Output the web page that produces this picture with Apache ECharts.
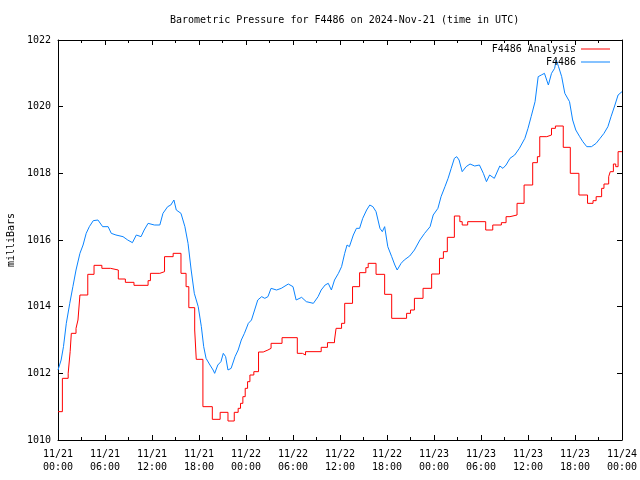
<!DOCTYPE html>
<html><head><meta charset="utf-8">
<script src="https://cdn.jsdelivr.net/npm/echarts@6/dist/echarts.min.js"></script>
<style>html,body{margin:0;padding:0;background:#fff}#c{width:640px;height:480px}</style>
</head><body><div id="c"></div>
<script>
const titleText = 'Barometric Pressure for F4486 on 2024-Nov-21 (time in UTC)';
const yAxisName = 'milliBars';
const seriesNames = ['F4486 Analysis', 'F4486'];
const xTickLabels = ['11/21\n00:00','11/21\n06:00','11/21\n12:00','11/21\n18:00','11/22\n00:00','11/22\n06:00','11/22\n12:00','11/22\n18:00','11/23\n00:00','11/23\n06:00','11/23\n12:00','11/23\n18:00','11/24\n00:00'];

// hours since 2024-11-21 00:00 UTC
const blueHours = [0,0.2,0.4,0.7,1.06,1.5,1.9,2.3,2.8,3.2,3.6,4.0,4.5,5.1,5.7,6.4,6.8,7.4,8.3,8.9,9.5,10.0,10.6,11.0,11.5,12.3,13.0,13.4,14.0,14.4,14.8,15.1,15.7,16.2,16.6,17.0,17.4,17.9,18.3,18.6,18.9,19.4,19.8,20.0,20.4,20.8,21.1,21.4,21.7,22.1,22.6,23.0,23.4,23.8,24.3,24.7,25.1,25.5,26.0,26.4,26.8,27.2,27.9,28.5,29.4,30.0,30.4,31.1,31.7,32.6,33.2,33.6,34.1,34.5,34.9,35.3,35.8,36.2,36.6,36.9,37.2,37.7,38.1,38.5,38.9,39.4,39.8,40.2,40.6,41.1,41.4,41.7,42.1,42.6,43.0,43.3,43.8,44.2,44.9,45.5,46.2,46.8,47.5,47.9,48.5,48.9,49.4,49.8,50.2,50.6,50.9,51.2,51.6,52.1,52.6,53.2,53.8,54.3,54.7,55.1,55.7,56.4,56.8,57.2,57.7,58.3,58.9,59.6,60.0,60.4,60.9,61.3,61.7,62.1,62.6,63.0,63.4,63.6,63.9,64.3,64.7,65.3,65.7,66.1,66.6,67.0,67.5,68.1,68.7,69.2,69.7,70.2,70.6,71.1,71.5,72.0];
const blueValues = [1012.1,1012.1,1012.4,1012.8,1013.5,1014.1,1014.6,1015.1,1015.6,1015.85,1016.2,1016.4,1016.58,1016.6,1016.4,1016.4,1016.2,1016.15,1016.1,1016.0,1015.92,1016.15,1016.1,1016.3,1016.5,1016.45,1016.45,1016.8,1017.0,1017.05,1017.2,1016.9,1016.8,1016.4,1015.9,1015.1,1014.4,1014.0,1013.4,1012.8,1012.45,1012.25,1012.1,1012.0,1012.25,1012.35,1012.6,1012.5,1012.1,1012.15,1012.5,1012.7,1013.0,1013.2,1013.5,1013.6,1013.9,1014.2,1014.3,1014.25,1014.3,1014.55,1014.5,1014.55,1014.68,1014.6,1014.2,1014.28,1014.15,1014.1,1014.3,1014.5,1014.65,1014.7,1014.5,1014.8,1015.0,1015.2,1015.6,1015.85,1015.8,1016.15,1016.35,1016.35,1016.65,1016.9,1017.05,1017.0,1016.85,1016.35,1016.25,1016.4,1015.8,1015.5,1015.25,1015.1,1015.3,1015.4,1015.52,1015.7,1016.0,1016.2,1016.4,1016.75,1016.95,1017.3,1017.6,1017.85,1018.15,1018.45,1018.5,1018.4,1018.05,1018.2,1018.28,1018.22,1018.25,1018.0,1017.75,1017.95,1017.85,1018.22,1018.15,1018.25,1018.45,1018.55,1018.75,1019.05,1019.35,1019.7,1020.15,1020.9,1020.95,1021.0,1020.65,1021.0,1021.15,1021.4,1021.2,1020.9,1020.4,1020.15,1019.6,1019.3,1019.1,1018.95,1018.8,1018.8,1018.9,1019.05,1019.2,1019.4,1019.7,1020.05,1020.35,1020.45];

// step series: value holds from each hour until the next
const redHours = [0,0.56,1.3,1.55,1.7,2.3,2.55,2.8,3.8,4.6,5.6,6.7,7.7,8.6,9.7,11.5,11.8,13.0,13.6,14.7,15.7,16.35,16.7,17.45,17.65,18.5,19.7,20.7,21.7,22.5,23.0,23.3,23.6,23.9,24.2,24.5,25.0,25.6,26.2,26.8,27.2,28.6,30.55,31.2,31.6,33.6,34.4,35.3,35.5,36.2,36.6,37.6,38.5,39.3,39.6,40.6,41.7,42.6,44.5,45.0,45.5,46.6,47.7,48.7,49.2,49.7,50.6,51.3,51.6,52.3,54.6,55.5,56.6,57.2,57.7,58.6,59.5,60.6,61.2,61.5,62.4,63.0,63.5,64.5,65.4,66.5,67.6,68.3,68.7,69.4,69.7,70.3,70.5,70.9,71.2,71.5,72];
const redValues = [1010.85,1011.85,1012.0,1012.65,1013.2,1013.35,1013.6,1014.35,1014.97,1015.24,1015.15,1015.1,1014.83,1014.73,1014.64,1014.78,1015.0,1015.05,1015.5,1015.6,1015.0,1014.6,1013.97,1013.3,1012.42,1011.0,1010.62,1010.83,1010.57,1010.83,1010.95,1011.1,1011.3,1011.55,1011.75,1011.95,1012.05,1012.64,1012.7,1012.75,1012.9,1013.07,1012.6,1012.55,1012.65,1012.78,1012.92,1013.0,1013.35,1013.5,1014.1,1014.6,1015.02,1015.17,1015.3,1014.97,1014.37,1013.65,1013.8,1013.9,1014.25,1014.55,1014.98,1015.45,1015.65,1016.08,1016.72,1016.55,1016.45,1016.55,1016.3,1016.45,1016.52,1016.7,1016.75,1017.1,1017.65,1018.32,1018.5,1019.1,1019.15,1019.35,1019.42,1018.78,1018.0,1017.35,1017.1,1017.18,1017.3,1017.55,1017.68,1017.9,1018.05,1018.28,1018.2,1018.65,1018.65];

const font = 'DejaVu Sans Mono';
const black = '#000';
const redColor = '#ff0000';
const blueColor = '#0a84ff';

function xAxisDef(pos, showLabels) {
  return {
    type: 'value', min: 0, max: 72, interval: 6, position: pos,
    axisLine: {show: true, onZero: false, lineStyle: {color: black, width: 1}},
    axisTick: {show: true, inside: true, length: 5, lineStyle: {color: black}},
    minorTick: {show: true, splitNumber: 2, length: 3, lineStyle: {color: black}},
    splitLine: {show: false},
    axisLabel: {show: showLabels, formatter: v => xTickLabels[Math.round(v / 6)], fontFamily: font, fontSize: 10, color: black, lineHeight: 13, margin: 8}
  };
}
function yAxisDef(pos, showLabels) {
  const a = {
    type: 'value', min: 1010, max: 1022, interval: 2, position: pos,
    axisLine: {show: true, onZero: false, lineStyle: {color: black, width: 1}},
    axisTick: {show: true, inside: true, length: 5, lineStyle: {color: black}},
    splitLine: {show: false},
    axisLabel: {show: showLabels, formatter: v => String(v), fontFamily: font, fontSize: 10, color: black, margin: 7}
  };
  if (showLabels) {
    a.name = yAxisName; a.nameLocation = 'middle'; a.nameGap = 41; a.nameRotate = 90;
    a.nameTextStyle = {fontFamily: font, fontSize: 10, color: black};
  }
  return a;
}

const chart = echarts.init(document.getElementById('c'), null, {renderer: 'canvas'});
chart.setOption({
  animation: false,
  backgroundColor: '#fff',
  title: {text: titleText, left: 165, top: 10, textStyle: {fontFamily: font, fontSize: 10, fontWeight: 'normal', color: black}},
  legend: {
    orient: 'vertical', right: 30, top: 43, align: 'right', icon: 'rect',
    itemWidth: 29, itemHeight: 1, itemGap: 1, padding: 0,
    textStyle: {fontFamily: font, fontSize: 10, color: black, lineHeight: 12},
    data: seriesNames
  },
  grid: {left: 58, right: 18, top: 40, bottom: 40, containLabel: false, outerBoundsMode: 'none'},
  xAxis: [xAxisDef('bottom', true), xAxisDef('top', false)],
  yAxis: [yAxisDef('left', true), yAxisDef('right', false)],
  series: [
    {name: seriesNames[0], type: 'line', step: 'end', showSymbol: false, symbol: 'none',
     data: redHours.map((h, i) => [h, redValues[i]]),
     lineStyle: {color: redColor, width: 1}, itemStyle: {color: redColor}},
    {name: seriesNames[1], type: 'line', showSymbol: false, symbol: 'none',
     data: blueHours.map((h, i) => [h, blueValues[i]]),
     lineStyle: {color: blueColor, width: 1}, itemStyle: {color: blueColor}}
  ]
});
</script>
</body></html>
